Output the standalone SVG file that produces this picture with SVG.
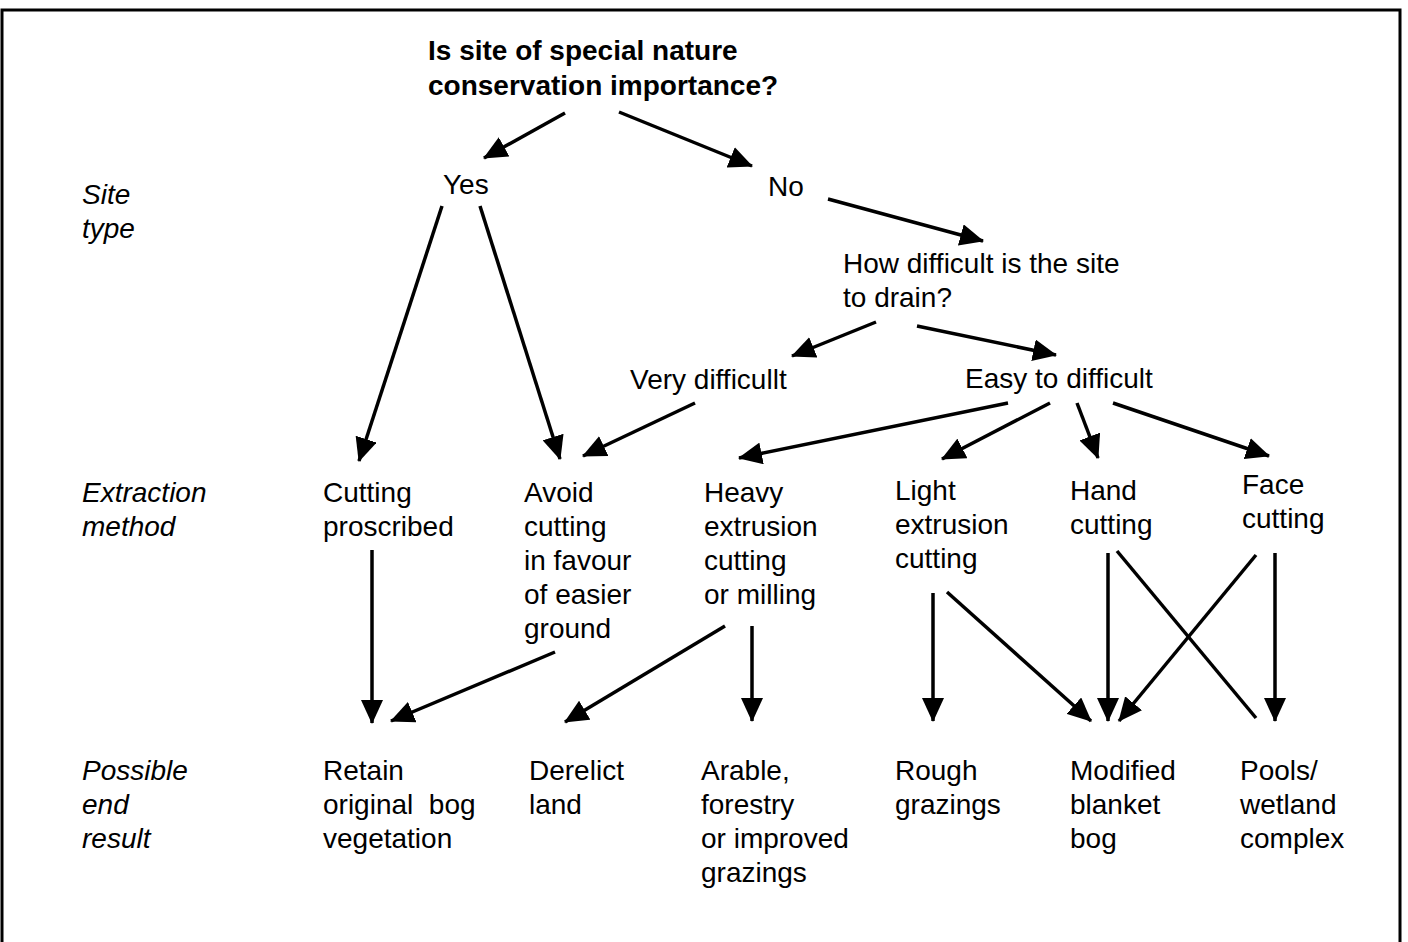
<svg xmlns="http://www.w3.org/2000/svg" width="1408" height="942" viewBox="0 0 1408 942">
<defs>
<marker id="ah" markerUnits="userSpaceOnUse" markerWidth="24" markerHeight="22" refX="23" refY="11" orient="auto">
<path d="M0,0 L24,11 L0,22 z" fill="#000"/>
</marker>
<style>
text{font-family:"Liberation Sans",Arial,sans-serif;font-size:28px;fill:#000}
.b{font-weight:bold}
.i{font-style:italic}
.c line{stroke:#000;stroke-width:3.5;fill:none}
.c line.a{marker-end:url(#ah)}
</style>
</defs>
<rect width="1408" height="942" fill="#fff"/>
<path d="M2,942 V10 H1400 V942" fill="none" stroke="#000" stroke-width="3"/>

<g id="rowlabels">
<text class="i" x="82" y="204">Site</text>
<text class="i" x="82" y="238">type</text>
<text class="i" x="82" y="502">Extraction</text>
<text class="i" x="82" y="536">method</text>
<text class="i" x="82" y="780">Possible</text>
<text class="i" x="82" y="814">end</text>
<text class="i" x="82" y="848">result</text>
</g>

<g id="n-question"><text class="b" x="428" y="60">Is site of special nature</text><text class="b" x="428" y="95">conservation importance?</text></g>
<g id="n-yes"><text x="443" y="194">Yes</text></g>
<g id="n-no"><text x="768" y="196">No</text></g>
<g id="n-drain"><text x="843" y="273">How difficult is the site</text><text x="843" y="307">to drain?</text></g>
<g id="n-verydiff"><text x="630" y="389">Very difficullt</text></g>
<g id="n-easy"><text x="965" y="388">Easy to difficult</text></g>

<g id="n-proscribed"><text x="323" y="502">Cutting</text><text x="323" y="536">proscribed</text></g>
<g id="n-avoid"><text x="524" y="502">Avoid</text><text x="524" y="536">cutting</text><text x="524" y="570">in favour</text><text x="524" y="604">of easier</text><text x="524" y="638">ground</text></g>
<g id="n-heavy"><text x="704" y="502">Heavy</text><text x="704" y="536">extrusion</text><text x="704" y="570">cutting</text><text x="704" y="604">or milling</text></g>
<g id="n-light"><text x="895" y="500">Light</text><text x="895" y="534">extrusion</text><text x="895" y="568">cutting</text></g>
<g id="n-hand"><text x="1070" y="500">Hand</text><text x="1070" y="534">cutting</text></g>
<g id="n-face"><text x="1242" y="494">Face</text><text x="1242" y="528">cutting</text></g>

<g id="n-retain"><text x="323" y="780">Retain</text><text x="323" y="814" xml:space="preserve">original  bog</text><text x="323" y="848">vegetation</text></g>
<g id="n-derelict"><text x="529" y="780">Derelict</text><text x="529" y="814">land</text></g>
<g id="n-arable"><text x="701" y="780">Arable,</text><text x="701" y="814">forestry</text><text x="701" y="848">or improved</text><text x="701" y="882">grazings</text></g>
<g id="n-rough"><text x="895" y="780">Rough</text><text x="895" y="814">grazings</text></g>
<g id="n-modified"><text x="1070" y="780">Modified</text><text x="1070" y="814">blanket</text><text x="1070" y="848">bog</text></g>
<g id="n-pools"><text x="1240" y="780">Pools/</text><text x="1240" y="814">wetland</text><text x="1240" y="848">complex</text></g>

<g id="connectors" class="c">
<line class="a" x1="565" y1="113" x2="484" y2="158"/>
<line class="a" x1="619" y1="112" x2="752" y2="166"/>
<line class="a" x1="828" y1="199" x2="983" y2="241"/>
<line class="a" x1="876" y1="322" x2="792" y2="356"/>
<line class="a" x1="917" y1="326" x2="1056" y2="355"/>
<line class="a" x1="442" y1="206" x2="359" y2="461"/>
<line class="a" x1="480" y1="206" x2="560" y2="459"/>
<line class="a" x1="695" y1="403" x2="583" y2="456"/>
<line class="a" x1="1008" y1="403" x2="739" y2="458"/>
<line class="a" x1="1050" y1="403" x2="942" y2="459"/>
<line class="a" x1="1077" y1="403" x2="1098" y2="458"/>
<line class="a" x1="1113" y1="403" x2="1269" y2="456"/>
<line class="a" x1="372" y1="550" x2="372" y2="723"/>
<line class="a" x1="555" y1="652" x2="391" y2="721"/>
<line class="a" x1="725" y1="626" x2="565" y2="722"/>
<line class="a" x1="752" y1="626" x2="752" y2="721"/>
<line class="a" x1="933" y1="593" x2="933" y2="721"/>
<line class="a" x1="947" y1="592" x2="1091" y2="721"/>
<line class="a" x1="1108" y1="553" x2="1108" y2="721"/>
<line x1="1117" y1="551" x2="1256" y2="718"/>
<line class="a" x1="1256" y1="555" x2="1119" y2="721"/>
<line class="a" x1="1275" y1="553" x2="1275" y2="721"/>
</g>
</svg>
